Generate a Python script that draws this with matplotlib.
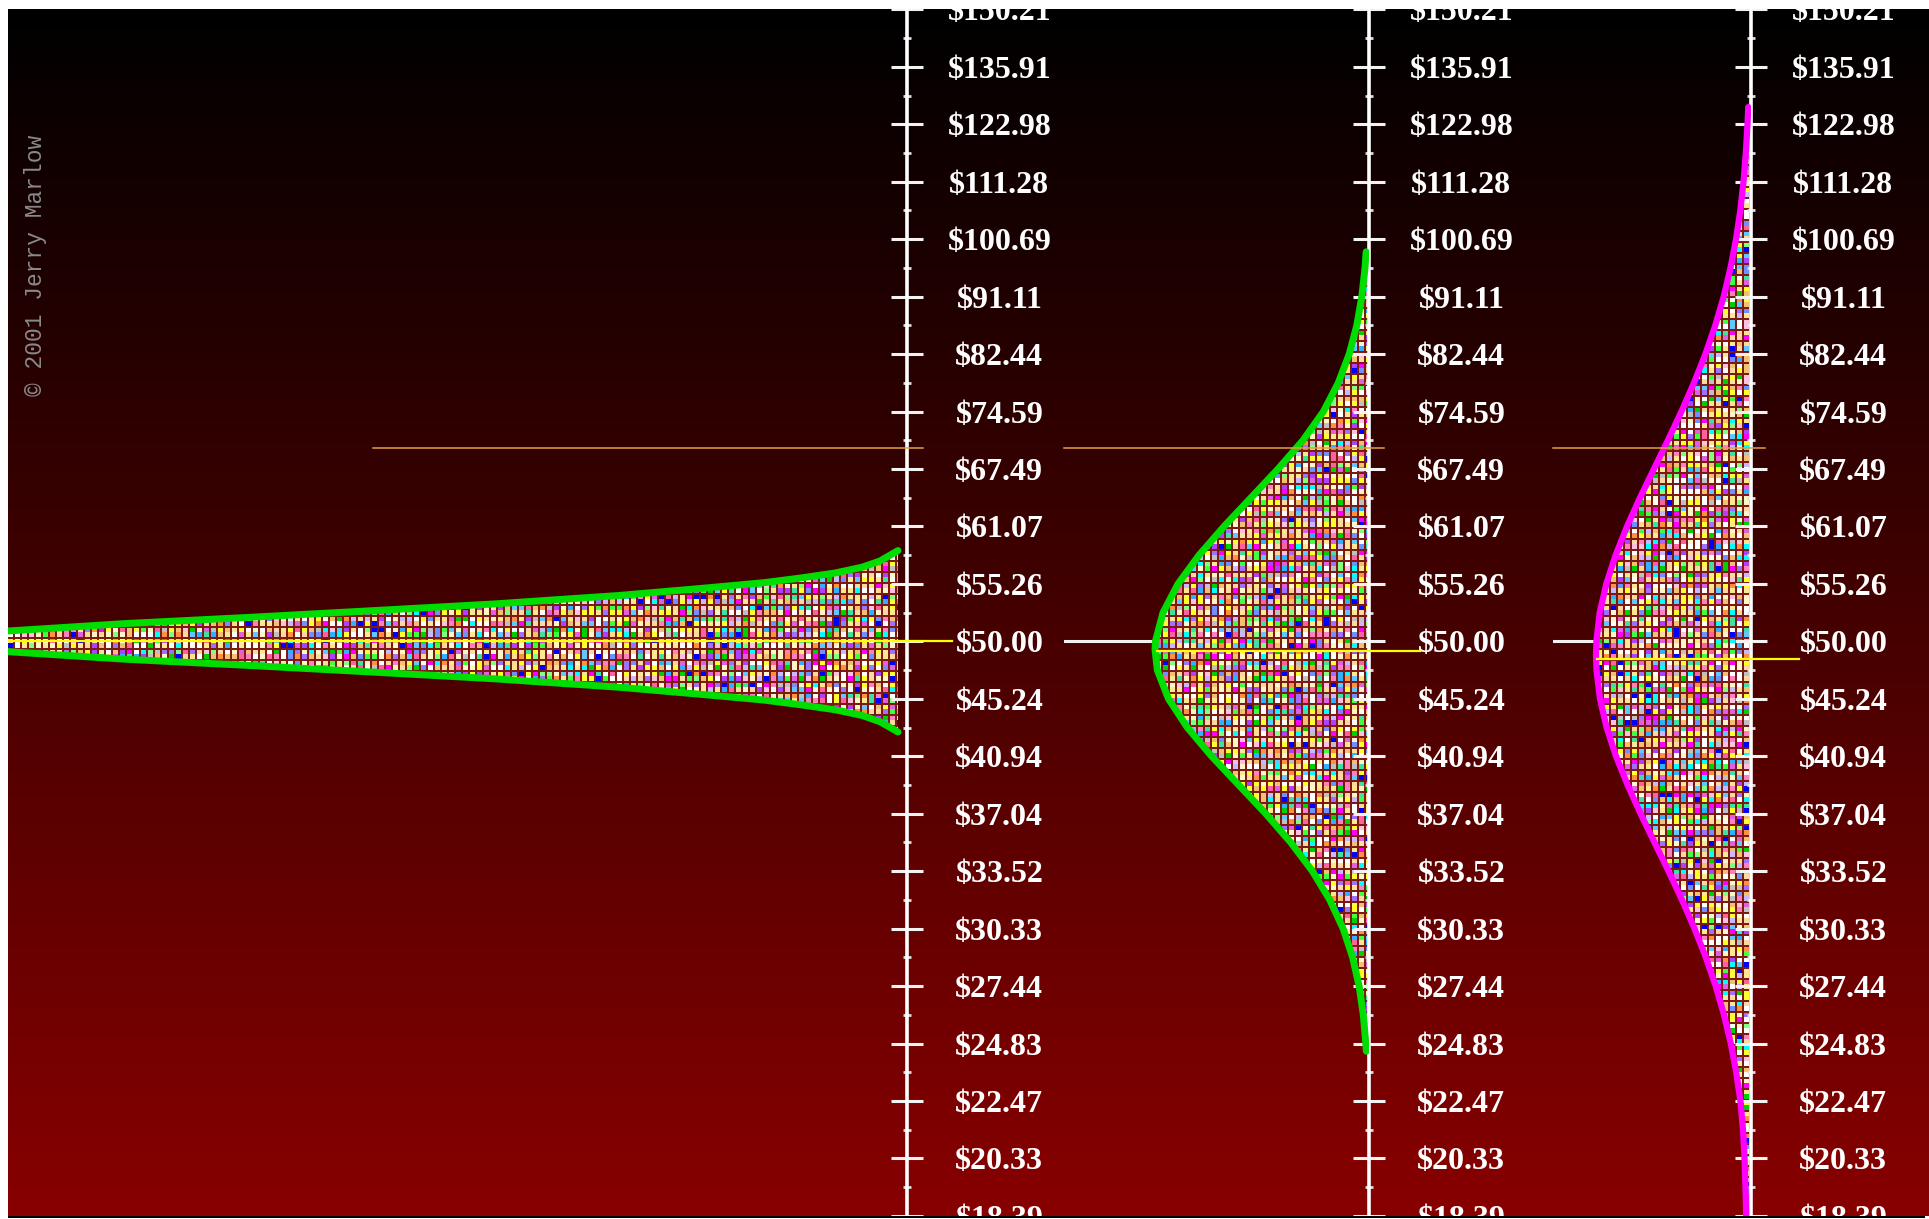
import numpy as np
import matplotlib
matplotlib.use("Agg")
import matplotlib.pyplot as plt
from matplotlib.patches import Polygon, Rectangle
from matplotlib.ticker import NullFormatter

W, H = 1929, 1219

# price ladder shown next to each vertical axis (log steps of 10%)
TICK_PRICES = [18.39, 20.33, 22.47, 24.83, 27.44, 30.33, 33.52, 37.04, 40.94, 45.24,
               50.00, 55.26, 61.07, 67.49, 74.59, 82.44, 91.11, 100.69, 111.28,
               122.98, 135.91, 150.21]
TICK_LABELS = [f"${p:.2f}" for p in TICK_PRICES]

START_PRICE = 50.00
TARGET_PRICE = 70.00

# left panel: envelope of the simulated price paths over time
FAN_DAY = [0, 13, 27, 40, 54, 68, 77, 84, 88, 92, 95, 97, 99]
FAN_HIGH = [50.91, 51.57, 52.14, 52.72, 53.36, 54.16, 54.82, 55.37, 55.81, 56.32, 56.89,
            57.51, 58.56]
FAN_LOW = [49.11, 48.47, 47.94, 47.42, 46.85, 46.16, 45.60, 45.15, 44.79, 44.39, 43.95,
           43.47, 42.70]
FAN_MEDIAN = 50.00

# middle panel: distribution of ending prices (green)
MID_PRICE = [98.50, 95.78, 91.11, 86.66, 82.44, 78.42, 74.59, 70.95, 67.49, 64.20, 61.07,
             58.09, 55.26, 52.56, 50.00, 49.30, 47.56, 45.24, 43.04, 40.94, 38.94, 37.04,
             35.23, 33.52, 31.88, 30.33, 28.85, 27.44, 26.10, 24.83, 24.50]
MID_COUNT = [2.9, 4.0, 7.2, 12.2, 19.8, 30.7, 45.6, 66.0, 91.0, 118.0, 145.0, 170.0, 191.0,
             206.0, 213.6, 214.0, 211.7, 200.5, 181.7, 157.4, 130.3, 103.2, 78.2, 56.6,
             39.2, 25.9, 16.4, 9.9, 5.7, 3.2, 2.7]
MID_MEDIAN = 49.13

# right panel: distribution of ending prices, wider spread (magenta)
RIGHT_PRICE = [126.72, 122.98, 116.98, 111.28, 105.85, 100.69, 95.78, 91.11, 86.66, 82.44,
               78.42, 74.59, 70.95, 67.49, 64.20, 61.07, 58.09, 55.26, 52.56, 50.00, 48.81,
               47.56, 45.24, 43.04, 40.94, 38.94, 37.04, 35.23, 33.52, 31.88, 30.33, 28.85,
               27.44, 26.10, 24.83, 23.62, 22.47, 21.37, 20.33, 19.34, 18.39, 17.50]
RIGHT_COUNT = [2.7, 3.5, 5.2, 7.5, 10.7, 15.0, 20.5, 27.3, 35.7, 45.6, 57.0, 69.6, 83.1,
               97.1, 111.0, 124.0, 135.4, 144.7, 151.3, 154.6, 155.0, 154.5, 151.0, 144.4,
               135.0, 123.4, 110.4, 96.5, 82.5, 69.0, 56.5, 45.2, 35.3, 27.0, 20.2, 14.8,
               10.6, 8.0, 6.5, 5.5, 4.8, 4.3]
RIGHT_MEDIAN = 48.45

# ---- layout (pixels of the 1929x1219 canvas) ----
TOP, BOTTOM, LEFT = 9, 1216, 8
Y50, PX_PER_LOG = 643.0, 576.0


def px_to_price(y):
    return 50.0 * np.exp((Y50 - y) / PX_PER_LOG)


Y_LO, Y_HI = px_to_price(BOTTOM), px_to_price(TOP)

# background gradient: black at top -> dark red at bottom
fig = plt.figure(figsize=(W / 100, H / 100), dpi=100)
fig.patch.set_facecolor("white")
ax_bg = fig.add_axes([0, 0, 1, 1])
ax_bg.set_xlim(0, W)
ax_bg.set_ylim(H, 0)
ax_bg.axis("off")
grad = np.zeros((256, 1, 3))
grad[:, 0, 0] = np.linspace(0, 136 / 255, 256)
ax_bg.imshow(grad, extent=(LEFT, W, BOTTOM, TOP), aspect="auto", zorder=0)

# colourful cell texture used to fill the fan and histograms
PALETTE = ["#FFFFFF"] * 4 + ["#FFF6C8"] * 3 + ["#FFE690"] * 3 + ["#FFFF30"] * 3 + \
          ["#F2C070"] * 2 + ["#FFD8A0"] * 2 + \
          ["#FF80C0", "#FF00FF", "#A070FF", "#C8B8FF", "#00FFFF", "#60C8FF",
           "#0000FF", "#00D000", "#80FF80", "#FFC0E0", "#C0C0C0", "#FF9040", "#40E0A0",
           "#E060E0", "#7090FF", "#FF60A0", "#30B0FF", "#40FF40", "#B040FF"]
pal = np.array([matplotlib.colors.to_rgb(c) for c in PALETTE])
GAP = np.array(matplotlib.colors.to_rgb("#7a1a12"))
CW, CH = 7, 11
py, px = np.arange(H), np.arange(W)
row, col = (py // CH)[:, None], (px // CW)[None, :]
oy, ox = (py % CH)[:, None], (px % CW)[None, :]
hsh = (row.astype(np.uint64) * np.uint64(73856093)) ^ (col.astype(np.uint64) * np.uint64(19349663))
hsh = (hsh ^ (hsh >> np.uint64(7))) * np.uint64(2654435761) % np.uint64(4294967291)
top_i = (hsh % np.uint64(len(PALETTE))).astype(int)
bot_i = ((hsh >> np.uint64(9)) % np.uint64(len(PALETTE))).astype(int)
idx = np.where(oy < 5, top_i, bot_i)
inside = (ox >= 1) & (ox <= 5) & (oy >= 1) & (oy <= 9)
texture = np.where(inside[..., None], pal[idx], GAP)


def price_axis(ax, xlim):
    ax.set_facecolor("none")
    ax.set_xlim(*xlim)
    ax.set_yscale("log")
    ax.set_ylim(Y_LO, Y_HI)
    for s in ("left", "top", "bottom"):
        ax.spines[s].set_visible(False)
    ax.spines["right"].set_color("white")
    ax.spines["right"].set_linewidth(2.6)
    ax.set_xticks([])
    ax.set_yticks(TICK_PRICES, TICK_LABELS)
    minor = [np.sqrt(a * b) for a, b in zip(TICK_PRICES[:-1], TICK_PRICES[1:])]
    ax.set_yticks(minor, minor=True)
    ax.yaxis.set_minor_formatter(NullFormatter())
    ax.yaxis.tick_right()
    ax.tick_params(axis="y", which="major", direction="inout", length=23, width=2.2,
                   color="#f2f2f2", labelcolor="white", pad=55)
    ax.tick_params(axis="y", which="minor", direction="inout", length=6, width=2,
                   color="#dddddd")
    for t in ax.yaxis.get_major_ticks():
        for lab in (t.label1, t.label2):
            lab.set_horizontalalignment("center")
            lab.set_fontfamily("Liberation Serif")
            lab.set_fontweight("bold")
            lab.set_fontsize(23)


def fill_cells(ax, verts):
    im = ax_bg.imshow(texture, extent=(0, W, H, 0), interpolation="nearest", zorder=1)
    im.set_clip_path(Polygon(verts, closed=True, transform=ax.transData))


def panel(x0, x1):
    return fig.add_axes([x0 / W, (H - BOTTOM) / H, (x1 - x0) / W, (BOTTOM - TOP) / H])


curve = dict(solid_capstyle="round", solid_joinstyle="round", zorder=3)

# left: fan of price paths
ax1 = panel(LEFT, 907)
price_axis(ax1, (0, 100))
fill_cells(ax1, list(zip(FAN_DAY, FAN_HIGH)) + list(zip(FAN_DAY[::-1], FAN_LOW[::-1])))
ax1.plot(FAN_DAY, FAN_HIGH, color="#00dd00", lw=5, **curve)
ax1.plot(FAN_DAY, FAN_LOW, color="#00dd00", lw=5, **curve)
ax1.plot([0, 105], [FAN_MEDIAN] * 2, color="#ffff00", lw=1.6, clip_on=False, zorder=4)
ax1.plot([40.6, 101.8], [TARGET_PRICE] * 2, color="#e0a040", lw=1.1, clip_on=False, zorder=4)

# middle: histogram of ending prices
ax2 = panel(1064, 1369)
price_axis(ax2, (305, 0))
fill_cells(ax2, list(zip(MID_COUNT, MID_PRICE)) + [(0, MID_PRICE[-1]), (0, MID_PRICE[0])])
ax2.plot(MID_COUNT, MID_PRICE, color="#00dd00", lw=5, **curve)
ax2.plot([305, max(MID_COUNT)], [START_PRICE] * 2, color="#f0f0f0", lw=2.2, zorder=2)
ax2.plot([max(MID_COUNT) - 2, -51], [MID_MEDIAN] * 2, color="#ffff00", lw=1.6,
         clip_on=False, zorder=4)
ax2.plot([305, -15], [TARGET_PRICE] * 2, color="#e0a040", lw=1.1, clip_on=False, zorder=4)

# right: histogram with wider spread
ax3 = panel(1553, 1751)
price_axis(ax3, (198, 0))
fill_cells(ax3, list(zip(RIGHT_COUNT, RIGHT_PRICE)) + [(0, RIGHT_PRICE[-1]), (0, RIGHT_PRICE[0])])
ax3.plot(RIGHT_COUNT, RIGHT_PRICE, color="#ff00ff", lw=4.5, **curve)
ax3.plot([198, max(RIGHT_COUNT)], [START_PRICE] * 2, color="#f0f0f0", lw=2.2, zorder=2)
ax3.plot([max(RIGHT_COUNT) - 1, -48], [RIGHT_MEDIAN] * 2, color="#ffff00", lw=1.6,
         clip_on=False, zorder=4)
ax3.plot([198, -14], [TARGET_PRICE] * 2, color="#e0a040", lw=1.1, clip_on=False, zorder=4)

# watermark
fig.text(36 / W, 1 - 265 / H, "\u00a9 2001 Jerry Marlow", rotation=90, ha="center",
         va="center", fontsize=16.5, family="Liberation Mono", color="#8a8a8a")

# frame: white margins and thin black base line
for x, y, w, h, c in [(0, H - TOP, W, TOP, "white"), (0, 0, LEFT, H, "white"),
                      (0, 0, W, H - BOTTOM, "white"), (LEFT, H - BOTTOM - 2, 1925 - LEFT, 2, "black")]:
    fig.add_artist(Rectangle((x / W, y / H), w / W, h / H, transform=fig.transFigure,
                             facecolor=c, edgecolor="none", zorder=20))

fig.savefig("out.png", dpi=100)
